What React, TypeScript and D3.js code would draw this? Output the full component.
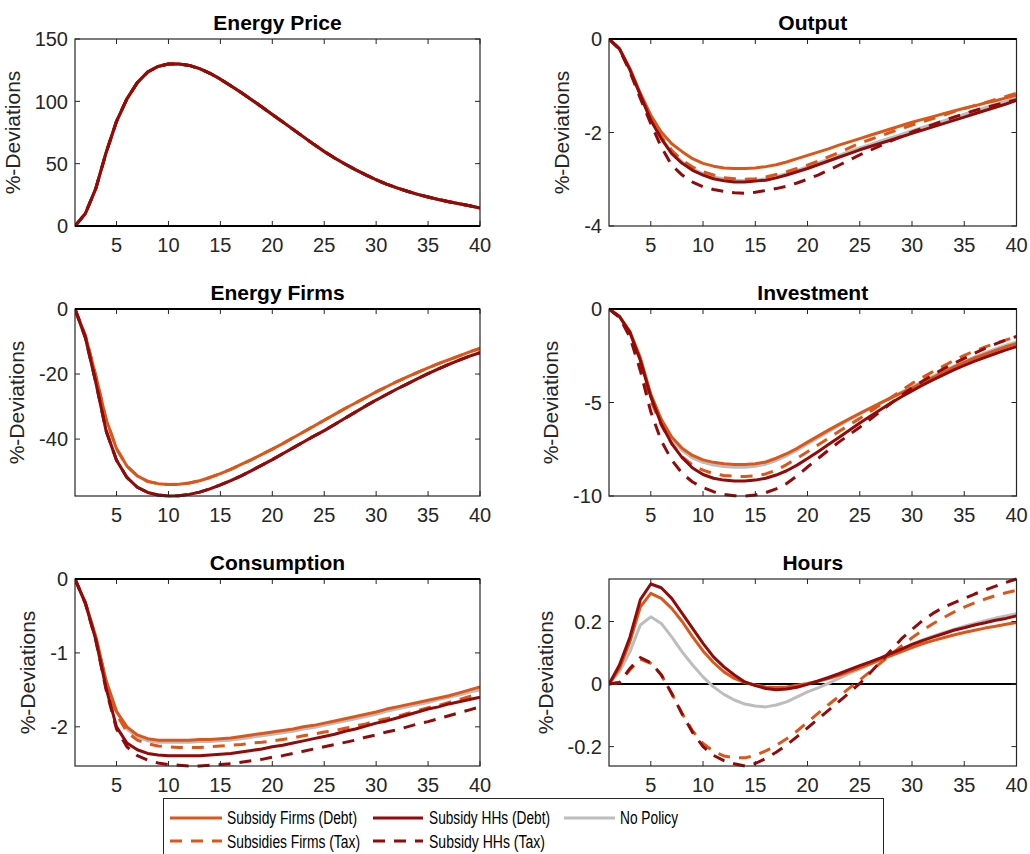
import React from 'react';
import * as d3 from 'd3';

// ---- periods and axis ticks ----
const periods = d3.range(1, 41);
const xTicks = [5, 10, 15, 20, 25, 30, 35, 40];

// ---- scenario names (draw order: gray underneath) ----
const seriesOrder = ['noPolicy', 'firmsDebt', 'firmsTax', 'hhsDebt', 'hhsTax'];
const legendRow1 = ['firmsDebt', 'hhsDebt', 'noPolicy'];
const legendRow2 = ['firmsTax', 'hhsTax'];
const seriesLabels: Record<string, string> = {
  firmsDebt: 'Subsidy Firms (Debt)',
  hhsDebt: 'Subsidy HHs (Debt)',
  noPolicy: 'No Policy',
  firmsTax: 'Subsidies Firms (Tax)',
  hhsTax: 'Subsidy HHs (Tax)',
};

// ---- Energy price (identical across scenarios) ----
const energyPrice = [0, 10, 30, 59, 84, 102, 115, 123.5, 128, 130, 130, 128.8, 126.2, 122.5, 117.8, 112.5, 107, 101.3, 95.5, 89.5,
  83.5, 77.5, 71.5, 65.5, 59.8, 54.5, 49.7, 45.2, 41, 37.1, 33.6, 30.6, 27.9, 25.4, 23.3, 21.3, 19.5, 17.8, 16.2, 14.5];

// ---- Energy firms ----
const energyFirmsWithSubsidy = [0, -8.2, -20.5, -34.0, -43.0, -48.3, -51.3, -53.0, -53.7, -54.0, -53.9, -53.5, -52.8, -51.8, -50.6, -49.3, -47.8, -46.3, -44.7, -43.1,
  -41.4, -39.6, -37.8, -36.0, -34.2, -32.4, -30.6, -28.9, -27.2, -25.5, -23.9, -22.3, -20.9, -19.5, -18.1, -16.8, -15.6, -14.4, -13.2, -12.1];
const energyFirmsWithoutSubsidy = [0, -8.8, -22.5, -37.5, -46.5, -51.8, -54.8, -56.4, -57.2, -57.5, -57.4, -57.0, -56.3, -55.3, -54.1, -52.8, -51.3, -49.7, -48.0, -46.3,
  -44.5, -42.7, -40.9, -39.1, -37.4, -35.5, -33.6, -31.7, -29.8, -28.0, -26.3, -24.6, -23.0, -21.4, -19.9, -18.4, -17.0, -15.7, -14.5, -13.4];

// ---- Output ----
const outputFirmsDebt = [0, -0.2, -0.63, -1.16, -1.63, -1.99, -2.24, -2.41, -2.56, -2.66, -2.72, -2.76, -2.77, -2.77, -2.76, -2.73, -2.69, -2.63, -2.56, -2.49,
  -2.42, -2.35, -2.27, -2.20, -2.13, -2.06, -1.99, -1.92, -1.85, -1.78, -1.72, -1.66, -1.60, -1.54, -1.48, -1.43, -1.37, -1.32, -1.26, -1.20];
const outputHHsDebt = [0, -0.21, -0.66, -1.2, -1.74, -2.13, -2.45, -2.66, -2.81, -2.91, -2.99, -3.03, -3.06, -3.06, -3.04, -3.02, -2.97, -2.91, -2.84, -2.77,
  -2.69, -2.61, -2.53, -2.45, -2.37, -2.30, -2.23, -2.16, -2.09, -2.02, -1.95, -1.88, -1.81, -1.74, -1.67, -1.60, -1.53, -1.46, -1.39, -1.31];
const outputNoPolicy = [0, -0.21, -0.65, -1.19, -1.72, -2.11, -2.42, -2.63, -2.78, -2.88, -2.95, -2.99, -3.02, -3.03, -3.02, -2.99, -2.94, -2.88, -2.81, -2.73,
  -2.65, -2.57, -2.49, -2.41, -2.33, -2.26, -2.18, -2.11, -2.04, -1.96, -1.89, -1.82, -1.75, -1.68, -1.61, -1.54, -1.47, -1.40, -1.33, -1.24];
const outputFirmsTax = [0, -0.21, -0.66, -1.2, -1.7, -2.09, -2.38, -2.59, -2.74, -2.84, -2.91, -2.97, -2.99, -3.0, -2.99, -2.95, -2.90, -2.84, -2.77, -2.70,
  -2.61, -2.52, -2.43, -2.33, -2.23, -2.15, -2.07, -1.99, -1.92, -1.84, -1.77, -1.70, -1.63, -1.56, -1.49, -1.42, -1.36, -1.29, -1.23, -1.16];
const outputHHsTax = [0, -0.22, -0.7, -1.27, -1.81, -2.31, -2.7, -2.91, -3.06, -3.16, -3.22, -3.26, -3.29, -3.30, -3.28, -3.24, -3.20, -3.15, -3.08, -3.0,
  -2.91, -2.81, -2.70, -2.59, -2.48, -2.38, -2.28, -2.18, -2.08, -1.99, -1.91, -1.83, -1.75, -1.67, -1.60, -1.53, -1.47, -1.41, -1.35, -1.30];

// ---- Investment ----
const investFirmsDebt = [0, -0.4, -1.2, -2.6, -4.55, -5.9, -6.85, -7.45, -7.83, -8.07, -8.2, -8.28, -8.31, -8.32, -8.28, -8.18, -7.98, -7.74, -7.45, -7.12,
  -6.80, -6.48, -6.17, -5.87, -5.58, -5.30, -5.02, -4.75, -4.49, -4.23, -3.95, -3.67, -3.39, -3.11, -2.85, -2.62, -2.41, -2.21, -2.02, -1.85];
const investNoPolicy = [0, -0.4, -1.22, -2.7, -4.65, -6.0, -6.95, -7.57, -7.97, -8.2, -8.34, -8.42, -8.46, -8.46, -8.41, -8.3, -8.1, -7.85, -7.55, -7.22,
  -6.89, -6.56, -6.24, -5.92, -5.61, -5.31, -5.02, -4.73, -4.45, -4.16, -3.88, -3.6, -3.32, -3.05, -2.80, -2.56, -2.34, -2.13, -1.94, -1.76];
const investFirmsTax = [0, -0.42, -1.3, -2.9, -4.9, -6.2, -7.2, -7.9, -8.35, -8.62, -8.8, -8.9, -8.95, -8.96, -8.92, -8.82, -8.62, -8.32, -7.98, -7.63,
  -7.27, -6.91, -6.55, -6.20, -5.85, -5.48, -5.11, -4.73, -4.35, -3.98, -3.66, -3.35, -3.05, -2.76, -2.48, -2.25, -2.03, -1.83, -1.65, -1.48];
const investHHsDebt = [0, -0.4, -1.25, -2.75, -4.7, -6.15, -7.2, -7.95, -8.5, -8.85, -9.05, -9.15, -9.2, -9.2, -9.15, -9.05, -8.88, -8.65, -8.35, -8.0,
  -7.63, -7.25, -6.87, -6.48, -6.1, -5.73, -5.37, -5.02, -4.69, -4.38, -4.08, -3.79, -3.52, -3.26, -3.02, -2.79, -2.58, -2.38, -2.19, -2.01];
const investHHsTax = [0, -0.45, -1.5, -3.3, -5.5, -7.05, -8.07, -8.79, -9.25, -9.55, -9.77, -9.92, -9.99, -10.0, -9.95, -9.82, -9.62, -9.33, -8.92, -8.45,
  -8.0, -7.55, -7.12, -6.72, -6.32, -5.9, -5.47, -5.04, -4.62, -4.22, -3.86, -3.52, -3.2, -2.91, -2.64, -2.36, -2.1, -1.87, -1.66, -1.47];

// ---- Consumption ----
const consFirmsDebt = [0, -0.32, -0.78, -1.38, -1.79, -2.0, -2.11, -2.16, -2.18, -2.18, -2.18, -2.18, -2.17, -2.17, -2.16, -2.15, -2.13, -2.11, -2.09, -2.07,
  -2.05, -2.03, -2.00, -1.98, -1.95, -1.92, -1.89, -1.86, -1.83, -1.80, -1.76, -1.73, -1.70, -1.67, -1.64, -1.61, -1.58, -1.54, -1.50, -1.46];
const consNoPolicy = [0, -0.32, -0.78, -1.38, -1.80, -2.03, -2.14, -2.19, -2.21, -2.21, -2.21, -2.21, -2.20, -2.20, -2.19, -2.18, -2.16, -2.14, -2.12, -2.10,
  -2.08, -2.06, -2.03, -2.01, -1.98, -1.95, -1.92, -1.89, -1.86, -1.83, -1.79, -1.76, -1.73, -1.70, -1.67, -1.63, -1.60, -1.57, -1.53, -1.50];
const consFirmsTax = [0, -0.32, -0.79, -1.40, -1.83, -2.07, -2.18, -2.23, -2.26, -2.27, -2.28, -2.28, -2.28, -2.27, -2.26, -2.25, -2.24, -2.22, -2.21, -2.19,
  -2.17, -2.15, -2.12, -2.10, -2.07, -2.05, -2.02, -1.99, -1.96, -1.92, -1.89, -1.86, -1.82, -1.78, -1.74, -1.71, -1.67, -1.63, -1.59, -1.55];
const consHHsDebt = [0, -0.33, -0.82, -1.48, -2.0, -2.22, -2.31, -2.36, -2.38, -2.39, -2.39, -2.39, -2.39, -2.38, -2.37, -2.36, -2.34, -2.32, -2.30, -2.27,
  -2.25, -2.22, -2.19, -2.16, -2.13, -2.10, -2.06, -2.03, -1.99, -1.95, -1.92, -1.88, -1.84, -1.80, -1.76, -1.73, -1.69, -1.66, -1.63, -1.60];
const consHHsTax = [0, -0.33, -0.83, -1.50, -2.03, -2.27, -2.39, -2.45, -2.49, -2.51, -2.52, -2.53, -2.53, -2.52, -2.51, -2.50, -2.48, -2.46, -2.44, -2.41,
  -2.39, -2.36, -2.33, -2.30, -2.27, -2.24, -2.21, -2.18, -2.14, -2.11, -2.07, -2.04, -2.00, -1.96, -1.93, -1.89, -1.85, -1.81, -1.77, -1.73];

// ---- Hours ----
const hoursFirmsDebt = [0, 0.05, 0.135, 0.247, 0.29, 0.274, 0.242, 0.2, 0.151, 0.106, 0.069, 0.039, 0.018, 0.005, -0.003, -0.009, -0.011, -0.009, -0.004, 0.002,
  0.009, 0.018, 0.028, 0.04, 0.052, 0.065, 0.078, 0.091, 0.104, 0.117, 0.129, 0.139, 0.148, 0.157, 0.165, 0.172, 0.179, 0.185, 0.191, 0.197];
const hoursHHsDebt = [0, 0.061, 0.15, 0.27, 0.32, 0.308, 0.274, 0.226, 0.178, 0.13, 0.087, 0.055, 0.029, 0.007, -0.005, -0.014, -0.018, -0.016, -0.01, -0.001,
  0.01, 0.021, 0.033, 0.046, 0.059, 0.071, 0.084, 0.098, 0.112, 0.127, 0.139, 0.15, 0.161, 0.172, 0.18, 0.189, 0.196, 0.204, 0.21, 0.218];
const hoursNoPolicy = [0, 0.04, 0.103, 0.189, 0.215, 0.194, 0.151, 0.103, 0.061, 0.023, -0.009, -0.033, -0.051, -0.064, -0.07, -0.073, -0.067, -0.057, -0.041, -0.025,
  -0.012, 0.002, 0.018, 0.034, 0.048, 0.063, 0.08, 0.095, 0.11, 0.127, 0.141, 0.153, 0.164, 0.175, 0.185, 0.194, 0.203, 0.211, 0.218, 0.225];
const hoursFirmsTax = [0, 0.005, 0.045, 0.08, 0.066, 0.029, -0.03, -0.094, -0.15, -0.19, -0.215, -0.23, -0.235, -0.236, -0.228, -0.214, -0.196, -0.175, -0.15, -0.122,
  -0.094, -0.066, -0.04, -0.013, 0.013, 0.04, 0.068, 0.095, 0.122, 0.148, 0.172, 0.193, 0.212, 0.23, 0.246, 0.26, 0.272, 0.283, 0.292, 0.30];
const hoursHHsTax = [0, 0.005, 0.05, 0.085, 0.068, 0.03, -0.03, -0.096, -0.155, -0.2, -0.228, -0.245, -0.255, -0.262, -0.254, -0.238, -0.218, -0.195, -0.168, -0.14,
  -0.112, -0.084, -0.056, -0.028, 0.002, 0.036, 0.072, 0.108, 0.145, 0.175, 0.203, 0.226, 0.245, 0.26, 0.274, 0.288, 0.301, 0.313, 0.325, 0.336];

// ---- styling ----
const ORANGE = '#DD5619';
const DARKRED = '#920A0A';
const GRAY = '#BDBDBD';
const AXIS = '#262626';
const FONT = '"Liberation Sans", Arial, Helvetica, sans-serif';
const seriesStyle: Record<string, { color: string; dash?: string }> = {
  firmsDebt: { color: ORANGE },
  hhsDebt: { color: DARKRED },
  noPolicy: { color: GRAY },
  firmsTax: { color: ORANGE, dash: '12 9' },
  hhsTax: { color: DARKRED, dash: '12 9' },
};

// grid of panel frames
const colX: [number, number][] = [[75, 480], [609, 1016.5]];
const rowY: [number, number][] = [[39, 226], [309, 496], [579, 766]];

type Panel = {
  id: string;
  title: string;
  col: number;
  row: number;
  domain: [number, number];
  yTicks: number[];
  data: Record<string, number[]>;
};

const panels: Panel[] = [
  {
    id: 'price', title: 'Energy Price', col: 0, row: 0, domain: [0, 150], yTicks: [0, 50, 100, 150],
    data: { noPolicy: energyPrice, firmsDebt: energyPrice, firmsTax: energyPrice, hhsDebt: energyPrice, hhsTax: energyPrice },
  },
  {
    id: 'output', title: 'Output', col: 1, row: 0, domain: [-4, 0], yTicks: [-4, -2, 0],
    data: { noPolicy: outputNoPolicy, firmsDebt: outputFirmsDebt, firmsTax: outputFirmsTax, hhsDebt: outputHHsDebt, hhsTax: outputHHsTax },
  },
  {
    id: 'efirms', title: 'Energy Firms', col: 0, row: 1, domain: [-57.5, 0], yTicks: [-40, -20, 0],
    data: {
      noPolicy: energyFirmsWithoutSubsidy, firmsDebt: energyFirmsWithSubsidy, firmsTax: energyFirmsWithSubsidy,
      hhsDebt: energyFirmsWithoutSubsidy, hhsTax: energyFirmsWithoutSubsidy,
    },
  },
  {
    id: 'invest', title: 'Investment', col: 1, row: 1, domain: [-10, 0], yTicks: [-10, -5, 0],
    data: { noPolicy: investNoPolicy, firmsDebt: investFirmsDebt, firmsTax: investFirmsTax, hhsDebt: investHHsDebt, hhsTax: investHHsTax },
  },
  {
    id: 'cons', title: 'Consumption', col: 0, row: 2, domain: [-2.53, 0], yTicks: [-2, -1, 0],
    data: { noPolicy: consNoPolicy, firmsDebt: consFirmsDebt, firmsTax: consFirmsTax, hhsDebt: consHHsDebt, hhsTax: consHHsTax },
  },
  {
    id: 'hours', title: 'Hours', col: 1, row: 2, domain: [-0.262, 0.336], yTicks: [-0.2, 0, 0.2],
    data: { noPolicy: hoursNoPolicy, firmsDebt: hoursFirmsDebt, firmsTax: hoursFirmsTax, hhsDebt: hoursHHsDebt, hhsTax: hoursHHsTax },
  },
];

const TICK_FS = 20;
// rough Arial advance widths for tick label text
function labelWidth(s: string, fs: number) {
  let w = 0;
  for (const ch of s) w += ch === '-' ? 0.333 : ch === '.' ? 0.278 : 0.556;
  return w * fs;
}

function PanelView({ p }: { p: Panel }) {
  const [x1, x2] = colX[p.col];
  const [y1, y2] = rowY[p.row];
  const x = d3.scaleLinear().domain([1, 40]).range([x1, x2]);
  const y = d3.scaleLinear().domain(p.domain).range([y2, y1]);
  const line = d3.line<number>().x((_, i) => x(periods[i])).y((d) => y(d));
  const fmt = (v: number) => String(v);
  const maxW = d3.max(p.yTicks, (t) => labelWidth(fmt(t), TICK_FS)) || 0;
  const yLabelX = x1 - (7 + maxW + 15);
  const tick = 5;
  return (
    <g>
      <defs>
        <clipPath id={`clip-${p.id}`}>
          <rect x={x1} y={y1 - 2} width={x2 - x1} height={y2 - y1 + 4} />
        </clipPath>
      </defs>
      <rect x={x1} y={y1} width={x2 - x1} height={y2 - y1} fill="#fff" />
      {/* zero reference line */}
      {p.domain[0] <= 0 && p.domain[1] >= 0 && (
        <line x1={x1} x2={x2} y1={y(0)} y2={y(0)} stroke="#000" strokeWidth={2} />
      )}
      <g clipPath={`url(#clip-${p.id})`}>
        {seriesOrder.map((k) => (
          <path
            key={k}
            d={line(p.data[k]) || ''}
            fill="none"
            stroke={seriesStyle[k].color}
            strokeWidth={3}
            strokeDasharray={seriesStyle[k].dash}
            strokeLinejoin="round"
          />
        ))}
      </g>
      {/* axes box with inward ticks */}
      <rect x={x1} y={y1} width={x2 - x1} height={y2 - y1} fill="none" stroke={AXIS} strokeWidth={1.2} />
      {xTicks.map((t) => (
        <g key={`xt${t}`}>
          <line x1={x(t)} x2={x(t)} y1={y2} y2={y2 - tick} stroke={AXIS} strokeWidth={1} />
          <line x1={x(t)} x2={x(t)} y1={y1} y2={y1 + tick} stroke={AXIS} strokeWidth={1} />
          <text x={x(t)} y={y2 + 26} textAnchor="middle" fontSize={TICK_FS} fill={AXIS} fontFamily={FONT}>
            {t}
          </text>
        </g>
      ))}
      {p.yTicks.map((t) => (
        <g key={`yt${t}`}>
          <line x1={x1} x2={x1 + tick} y1={y(t)} y2={y(t)} stroke={AXIS} strokeWidth={1} />
          <line x1={x2} x2={x2 - tick} y1={y(t)} y2={y(t)} stroke={AXIS} strokeWidth={1} />
          <text x={x1 - 7} y={y(t)} dy="0.36em" textAnchor="end" fontSize={TICK_FS} fill={AXIS} fontFamily={FONT}>
            {fmt(t)}
          </text>
        </g>
      ))}
      {/* zero line redrawn on the frame edge when it coincides with it */}
      {(p.domain[0] === 0 || p.domain[1] === 0) && (
        <line x1={x1} x2={x2} y1={y(0)} y2={y(0)} stroke="#000" strokeWidth={2} />
      )}
      <text
        x={(x1 + x2) / 2}
        y={y1 - 9}
        textAnchor="middle"
        fontSize={21}
        fontWeight="bold"
        fill="#000"
        fontFamily={FONT}
      >
        {p.title}
      </text>
      <text
        transform={`translate(${yLabelX},${(y1 + y2) / 2}) rotate(-90)`}
        textAnchor="middle"
        fontSize={21}
        fill={AXIS}
        fontFamily={FONT}
      >
        %-Deviations
      </text>
    </g>
  );
}

// legend layout: sample start, sample end, text start per column
const legendCols = [
  { lx1: 170, lx2: 222, tx: 227 },
  { lx1: 373, lx2: 423, tx: 429 },
  { lx1: 564, lx2: 615, tx: 620 },
];
const legendTextWidths: Record<string, number> = {
  firmsDebt: 130, hhsDebt: 121, noPolicy: 58, firmsTax: 133, hhsTax: 116,
};

function Legend() {
  const rows = [
    { keys: legendRow1, ly: 818, ty: 824 },
    { keys: legendRow2, ly: 841, ty: 847.5 },
  ];
  return (
    <g>
      <rect x={163.5} y={798.5} width={720} height={70} fill="#fff" stroke={AXIS} strokeWidth={1} />
      {rows.map((r, ri) =>
        r.keys.map((k, ci) => {
          const c = legendCols[ci];
          const st = seriesStyle[k];
          return (
            <g key={`${ri}-${k}`}>
              <line x1={c.lx1} x2={c.lx2} y1={r.ly} y2={r.ly} stroke={st.color} strokeWidth={3} strokeDasharray={st.dash} />
              <text
                x={c.tx}
                y={r.ty}
                fontSize={17.5}
                fill="#000"
                fontFamily={FONT}
                textLength={legendTextWidths[k]}
                lengthAdjust="spacingAndGlyphs"
              >
                {seriesLabels[k]}
              </text>
            </g>
          );
        })
      )}
    </g>
  );
}

export default function App() {
  return (
    <svg
      width={1030}
      height={854}
      viewBox="0 0 1030 854"
      style={{ position: 'absolute', left: 0, top: 0, background: '#fff' }}
    >
      <rect width={1030} height={854} fill="#fff" />
      {panels.map((p) => (
        <PanelView key={p.id} p={p} />
      ))}
      <Legend />
    </svg>
  );
}
